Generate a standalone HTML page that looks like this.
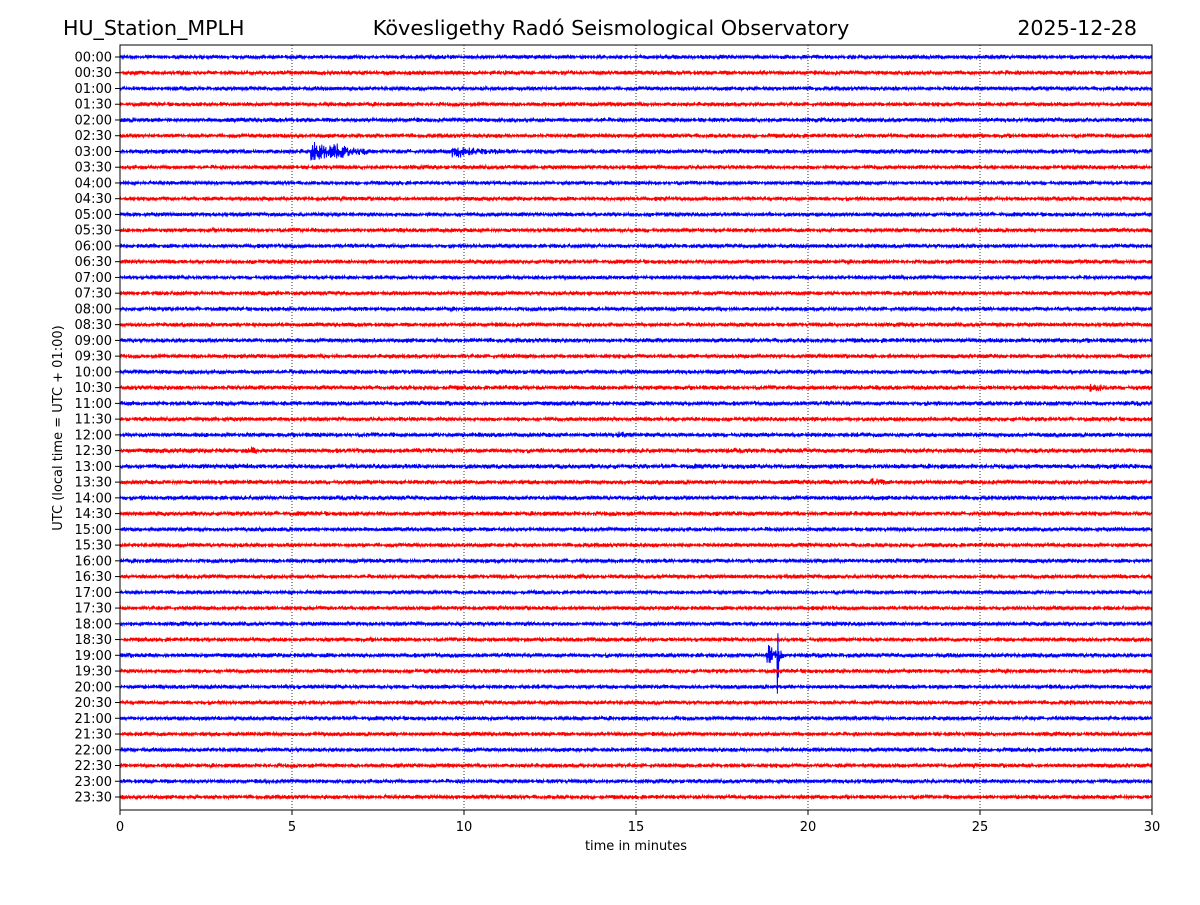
<!DOCTYPE html>
<html><head><meta charset="utf-8"><style>
body{margin:0;background:#fff;}
svg text{font-family:"DejaVu Sans","Liberation Sans",sans-serif;}
</style></head><body>
<svg id="chart" width="1200" height="900" xmlns="http://www.w3.org/2000/svg">
<rect width="1200" height="900" fill="#fff"/>
<text x="63" y="35" font-size="20.6">HU_Station_MPLH</text>
<text x="611" y="35" font-size="20.8" text-anchor="middle">Kövesligethy Radó Seismological Observatory</text>
<text x="1137" y="35" font-size="20.6" text-anchor="end">2025-12-28</text>
<g id="grid"></g>
<g id="traces"></g>
<rect x="120" y="45" width="1032" height="765" fill="none" stroke="#000" stroke-width="1"/>
<g id="axes"></g>
<text x="636" y="850" font-size="13" text-anchor="middle">time in minutes</text>
<text transform="translate(62,428) rotate(-90)" font-size="13" text-anchor="middle">UTC (local time = UTC + 01:00)</text>
</svg>
<script>
const rowLabels = [];
for (let h = 0; h < 24; h++) { const hh = String(h).padStart(2,'0'); rowLabels.push(hh+':00', hh+':30'); }
const xTicks = [0,5,10,15,20,25,30];
const gridTicks = [5,10,15,20,25];
// background noise level per row (pixels)
const noiseLevels = [2.4,2.6,2.4,2.4,2.6,2.4,2.6,2.4,2.2,2.4,2.4,2.4,2.4,2.4,2.2,2.4,2.4,2.4,2.6,2.4,2.6,2.6,2.6,2.4,2.6,2.8,2.8,2.6,2.6,2.6,2.4,2.4,2.4,2.4,2.2,2.4,2.4,2.4,2.6,2.4,2.4,2.4,2.4,2.4,2.4,2.4,2.4,2.4];
// events: row index, start minute, duration minutes, peak amplitude px
const eventRows = [6, 6, 6, 21, 27, 38, 38, 24, 26, 25];
const eventStart = [5.55, 9.65, 6.2, 28.2, 21.8, 18.8, 19.1, 14.5, 3.1, 3.8];
const eventDur = [1.8, 1.5, 1.0, 0.5, 0.5, 0.5, 0.12, 0.3, 0.3, 0.3];
const eventAmp = [9, 6, 4, 7, 4, 14, 42, 4, 3, 3];

const X0=120, X1=1152, Y0=57, DY=(797-57)/47;
const xs = t => X0 + t/30*(X1-X0);
const ys = i => Y0 + i*DY;
const NS='http://www.w3.org/2000/svg';
const grid=document.getElementById('grid'), tr=document.getElementById('traces'), ax=document.getElementById('axes');
gridTicks.forEach(t=>{
  const l=document.createElementNS(NS,'line');
  l.setAttribute('x1',xs(t));l.setAttribute('x2',xs(t));l.setAttribute('y1',45);l.setAttribute('y2',810);
  l.setAttribute('stroke','#000');l.setAttribute('stroke-width','0.8');l.setAttribute('stroke-dasharray','1,2');
  
  
  grid.appendChild(l);
});
xTicks.forEach(t=>{
  const l=document.createElementNS(NS,'line');
  l.setAttribute('x1',xs(t));l.setAttribute('x2',xs(t));l.setAttribute('y1',810);l.setAttribute('y2',815);l.setAttribute('stroke','#000');
  
  
  ax.appendChild(l);
  const tx=document.createElementNS(NS,'text');
  tx.setAttribute('x',xs(t));tx.setAttribute('y',831);tx.setAttribute('font-size','13');tx.setAttribute('text-anchor','middle');
  tx.textContent=t;
  
  
  ax.appendChild(tx);
});
let seed=12345;
function rnd(){seed=(seed*1103515245+12345)&0x7fffffff;return seed/0x7fffffff-0.5;}
rowLabels.forEach((lab,i)=>{
  const y=ys(i);
  const l=document.createElementNS(NS,'line');
  l.setAttribute('x1',115);l.setAttribute('x2',120);l.setAttribute('y1',y);l.setAttribute('y2',y);l.setAttribute('stroke','#000');
  
  
  ax.appendChild(l);
  const tx=document.createElementNS(NS,'text');
  tx.setAttribute('x',112);tx.setAttribute('y',y+4.5);tx.setAttribute('font-size','13');tx.setAttribute('text-anchor','end');
  tx.textContent=lab;
  
  
  ax.appendChild(tx);
  const N=2000; let pts=[];
  for(let k=0;k<=N;k++){
    const t=k/N*30;
    let a=noiseLevels[i]*(0.5+0.5*Math.abs(rnd()*2));
    let sgn=k%2===0?1:-1;
    for(let e=0;e<eventRows.length;e++){
      if(eventRows[e]!==i) continue;
      const d=t-eventStart[e];
      if(d>=0&&d<eventDur[e]) a+=eventAmp[e]*Math.exp(-2.5*d/eventDur[e]);
    }
    pts.push(xs(t).toFixed(1)+','+(y+sgn*Math.abs(rnd()*2)*a).toFixed(1));
  }
  const p=document.createElementNS(NS,'polyline');
  p.setAttribute('points',pts.join(' '));p.setAttribute('fill','none');
  p.setAttribute('stroke',i%2===0?'#0000ff':'#ff0000');p.setAttribute('stroke-width','1');
  
  
  tr.appendChild(p);
});
</script>
</body></html>
